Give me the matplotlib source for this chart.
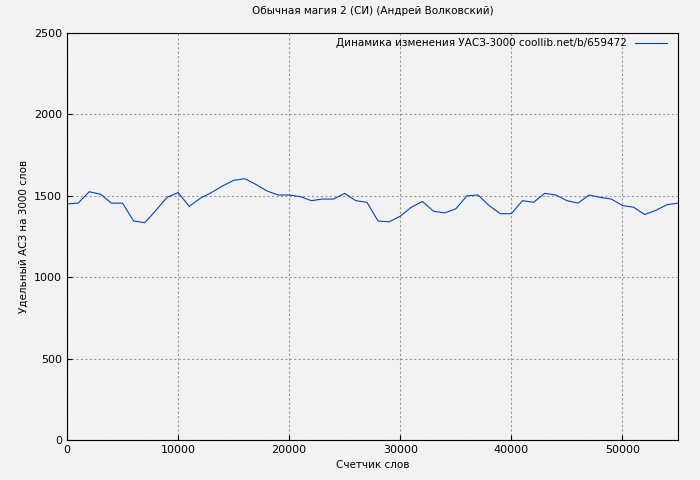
import numpy as np
import matplotlib.pyplot as plt

words = np.arange(0, 56000, 1000)
uasz = [1450, 1455, 1525, 1510, 1455, 1455, 1345, 1335, 1410, 1490,
        1520, 1435, 1485, 1520, 1560, 1595, 1605, 1570, 1530, 1505,
        1505, 1495, 1470, 1480, 1480, 1515, 1470, 1460, 1345, 1340,
        1375, 1430, 1465, 1405, 1395, 1420, 1500, 1505, 1440, 1390,
        1390, 1470, 1460, 1515, 1505, 1470, 1455, 1505, 1490, 1480,
        1440, 1430, 1385, 1410, 1445, 1455]

bg = "#f2f2f2"
fig = plt.figure(figsize=(7, 4.8), dpi=100, facecolor=bg)
ax = fig.add_axes([67/700, 40/480, 611/700, 407/480], facecolor=bg)
ax.plot(words, uasz, color="#0047b3", lw=0.8,
        label="Динамика изменения УАСЗ-3000 coollib.net/b/659472")
ax.set_xlim(0, 55000)
ax.set_ylim(0, 2500)
ax.set_xticks(range(0, 55000, 10000))
ax.set_yticks(range(0, 2501, 500))
ax.grid(True, color="#999999", ls=(0, (2, 2)), lw=0.8)
ax.tick_params(labelsize=8, direction="in")
ax.set_xlabel("Счетчик слов", fontsize=7.5)
ax.set_ylabel("Удельный АСЗ на 3000 слов", fontsize=7.5)
ax.set_title("Обычная магия 2 (СИ) (Андрей Волковский)", fontsize=7.5, pad=14)
leg = ax.legend(loc="upper right", frameon=False, fontsize=7.5, markerfirst=False,
                handlelength=3, borderaxespad=0.2, borderpad=0.3,
                bbox_to_anchor=(0.99, 1.0))
fig.savefig("out.png", dpi=100, facecolor=bg)
